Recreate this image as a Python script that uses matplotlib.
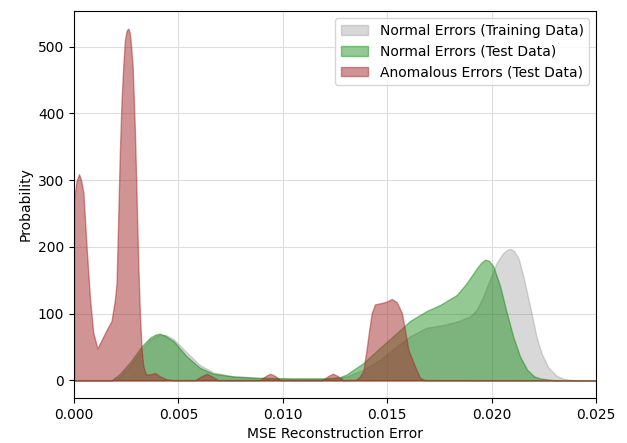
import matplotlib.pyplot as plt

# density curves of the reconstruction error (x = MSE, y = density)
train_x = [0.0, 0.0018, 0.0022, 0.00268, 0.00324, 0.00364, 0.00404, 0.0044,
           0.00476, 0.0054, 0.00603, 0.00667, 0.00763, 0.00891, 0.0105, 0.0121,
           0.0127, 0.01306, 0.01386, 0.01466, 0.01546, 0.01609, 0.01689, 0.01753,
           0.01833, 0.01897, 0.01929, 0.0196, 0.01992, 0.02024, 0.02056, 0.02076,
           0.02092, 0.0211, 0.0213, 0.02152, 0.02184, 0.02216, 0.0224, 0.0227,
           0.0231, 0.0235, 0.024, 0.025]
train_y = [0, 0, 6, 22, 46, 61, 68, 68,
           62, 42, 23, 12, 6, 3, 2.5, 3,
           4, 6, 16, 31, 51, 66, 79, 82,
           88, 96, 106, 126, 151, 176, 191, 196,
           197, 193, 182, 156, 111, 64, 40, 20,
           7, 2, 0.3, 0]

test_x = [0.0, 0.0018, 0.0022, 0.00268, 0.00324, 0.00364, 0.00392, 0.00412,
          0.00436, 0.00476, 0.0054, 0.00603, 0.00667, 0.00763, 0.00891, 0.01049,
          0.0121, 0.01274, 0.01306, 0.01386, 0.01466, 0.01546, 0.01609, 0.01689,
          0.01753, 0.01833, 0.01881, 0.01929, 0.01952, 0.0197, 0.01988, 0.02008,
          0.0204, 0.02072, 0.02104, 0.02136, 0.0217, 0.02204, 0.02232, 0.02294,
          0.025]
test_y = [0, 0, 10, 27, 51, 64, 69, 70,
          67, 59, 36, 19, 10, 6, 4, 3,
          3, 5, 9, 26, 49, 71, 89, 104,
          113, 128, 146, 168, 177, 181, 179, 171,
          142, 102, 65, 36, 16, 6, 3, 0.5,
          0]

anom_x = [0.0, 0.00012, 0.00024, 0.00034, 0.00045, 0.00061, 0.00077, 0.00092,
          0.00112, 0.00133, 0.00157, 0.0018, 0.00196, 0.00204, 0.00212, 0.0022,
          0.00228, 0.00236, 0.00244, 0.00252, 0.0026, 0.00266, 0.00271, 0.00281,
          0.00292, 0.003, 0.00308, 0.00316, 0.00324, 0.00332, 0.00345, 0.00364,
          0.00388, 0.00412, 0.00444, 0.0048, 0.0058, 0.0061, 0.00636, 0.0066,
          0.0069, 0.0089, 0.0092, 0.0094, 0.0096, 0.0099, 0.0119, 0.0122,
          0.0124, 0.0126, 0.0129, 0.0135, 0.0137, 0.01386, 0.01401, 0.01414,
          0.01426, 0.01442, 0.01474, 0.01497, 0.01522, 0.01546, 0.0157, 0.01585,
          0.01601, 0.01633, 0.01657, 0.0168, 0.025]
anom_y = [270, 298, 309, 300, 281, 196, 121, 72,
          48, 61, 76, 89, 121, 146, 246, 345,
          420, 470, 510, 524, 527, 522, 510, 470,
          370, 271, 171, 96, 46, 21, 9, 9,
          11, 6, 1.5, 0.5, 0.5, 6, 10, 6,
          0.5, 0.5, 7, 10, 7, 0.5, 0.5, 7,
          10, 7, 0.5, 1, 6, 14, 46, 76,
          101, 114, 116, 118, 122, 117, 101, 76,
          46, 21, 4, 0.5, 0]

fig = plt.figure(figsize=(6.27, 4.43), dpi=100)
ax = fig.add_axes([0.118, 0.1016, 0.8326, 0.8734])

ax.fill_between(train_x, train_y, color='gray', alpha=0.3, lw=1,
                label='Normal Errors (Training Data)')
ax.fill_between(test_x, test_y, color='green', alpha=0.42, lw=1,
                label='Normal Errors (Test Data)')
ax.fill_between(anom_x, anom_y, color='brown', alpha=0.5, lw=1,
                label='Anomalous Errors (Test Data)')

ax.set_xlim(0, 0.025)
ax.set_xlabel('MSE Reconstruction Error')
ax.set_ylabel('Probability')
ax.grid(True, color='#dddddd', lw=0.8)
ax.set_axisbelow(True)
ax.legend(loc='upper right')

plt.savefig('out.png', dpi=100)
